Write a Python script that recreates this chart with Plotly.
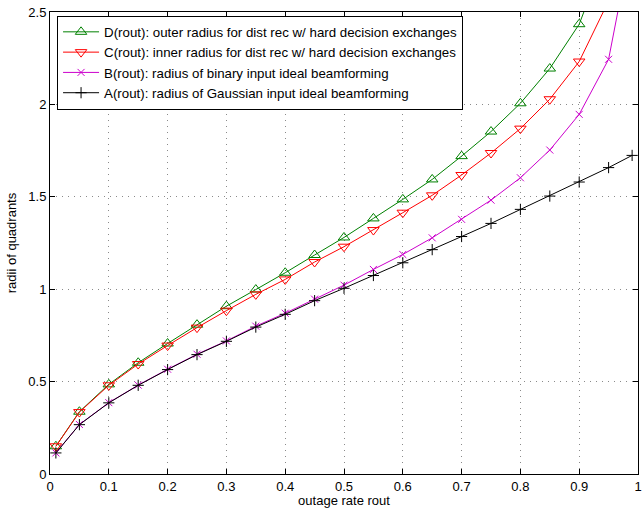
import plotly.graph_objects as go

rout = [0.01, 0.05, 0.10, 0.15, 0.20, 0.25, 0.30, 0.35, 0.40, 0.45, 0.50,
        0.55, 0.60, 0.65, 0.70, 0.75, 0.80, 0.85, 0.90, 0.95, 0.99]

D_outer = [0.15, 0.337, 0.485, 0.602, 0.706, 0.808, 0.908, 0.998, 1.089, 1.185, 1.28,
           1.383, 1.486, 1.594, 1.72, 1.853, 2.006, 2.194, 2.434, 2.85]
C_inner = [0.15, 0.335, 0.48, 0.595, 0.695, 0.792, 0.884, 0.972, 1.053, 1.147, 1.23,
           1.32, 1.414, 1.508, 1.618, 1.737, 1.869, 2.028, 2.232, 2.56]
B_binary = [0.114, 0.268, 0.386, 0.481, 0.567, 0.648, 0.72, 0.8, 0.87, 0.946, 1.022,
            1.107, 1.188, 1.278, 1.378, 1.482, 1.603, 1.753, 1.946, 2.244, 2.9]
A_gauss = [0.114, 0.267, 0.385, 0.48, 0.565, 0.646, 0.718, 0.795, 0.864, 0.938, 1.005,
           1.074, 1.143, 1.214, 1.285, 1.356, 1.432, 1.504, 1.58, 1.658, 1.724]

names = [
    "D(rout): outer radius for dist rec w/ hard decision exchanges",
    "C(rout): inner radius for dist rec w/ hard decision exchanges",
    "B(rout): radius of binary input ideal beamforming",
    "A(rout): radius of Gaussian input ideal beamforming",
]

x_ticks = [0, 0.1, 0.2, 0.3, 0.4, 0.5, 0.6, 0.7, 0.8, 0.9, 1]
x_ticktext = ["0", "0.1", "0.2", "0.3", "0.4", "0.5", "0.6", "0.7", "0.8", "0.9", "1"]
y_ticks = [0, 0.5, 1, 1.5, 2, 2.5]
y_ticktext = ["0", "0.5", "1", "1.5", "2", "2.5"]

series = [
    (D_outer, names[0], "#008000", "triangle-up-open", 10),
    (C_inner, names[1], "#ff0000", "triangle-down-open", 10),
    (B_binary, names[2], "#cc00cc", "x-thin-open", 7),
    (A_gauss, names[3], "#000000", "cross-thin-open", 8),
]

FONT = "Liberation Sans, Arial, sans-serif"

fig = go.Figure()
for ys, nm, col, sym, sz in series:
    fig.add_trace(go.Scatter(
        x=rout[:len(ys)], y=ys, name=nm, mode="lines+markers",
        line=dict(color=col, width=1),
        marker=dict(symbol=sym, size=sz, color=col, line=dict(color=col, width=1)),
        cliponaxis=True,
    ))

axis_common = dict(
    showline=True, linecolor="black", linewidth=1, mirror="ticks",
    ticks="inside", ticklen=5, tickcolor="black",
    showgrid=True, gridcolor="#8a8a8a", griddash="1px,5px", gridwidth=1,
    zeroline=False, automargin=False, ticklabeloverflow="allow",
    tickfont=dict(family=FONT, size=13, color="black"),
)

fig.update_layout(
    width=644, height=508,
    margin=dict(l=50, r=6, t=12, b=34),
    paper_bgcolor="white", plot_bgcolor="white",
    font=dict(family=FONT, size=13, color="black"),
    showlegend=True,
    legend=dict(
        x=0.012, y=0.992, xanchor="left", yanchor="top",
        bgcolor="white", bordercolor="black", borderwidth=1,
        font=dict(family=FONT, size=13.3), itemwidth=36, tracegroupgap=0,
    ),
    xaxis=dict(range=[0, 1], tickvals=x_ticks, ticktext=x_ticktext,
               title=dict(text="outage rate rout", standoff=1, font=dict(size=13)),
               **axis_common),
    yaxis=dict(range=[0, 2.5], tickvals=y_ticks, ticktext=y_ticktext,
               title=dict(text="radii of quadrants", standoff=8, font=dict(size=13)),
               **axis_common),
)

# remove the page's default 8px body margin so the figure fills the window
fig.write_html("out.html", config={"displayModeBar": False},
               post_script="document.body.style.margin='0px';")
